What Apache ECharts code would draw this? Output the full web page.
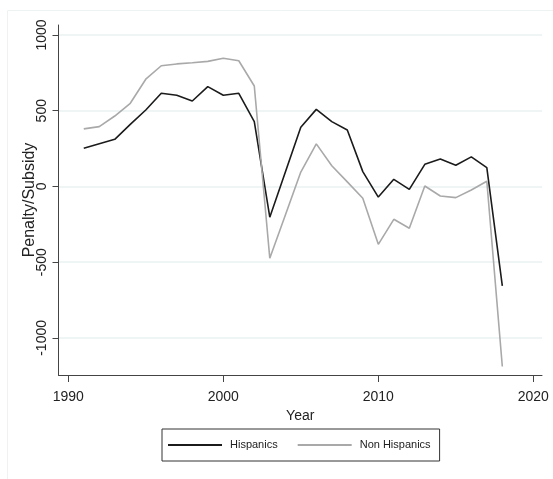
<!DOCTYPE html>
<html>
<head>
<meta charset="utf-8">
<script src="https://cdn.jsdelivr.net/npm/echarts@6/dist/echarts.min.js"></script>
<style>
  html, body { margin: 0; padding: 0; background: #fff; }
  #main { width: 553px; height: 479px; }
</style>
</head>
<body>
<div id="main"></div>
<script>
const years = [1991, 1992, 1993, 1994, 1995, 1996, 1997, 1998, 1999, 2000,
  2001, 2002, 2003, 2004, 2005, 2006, 2007, 2008, 2009, 2010,
  2011, 2012, 2013, 2014, 2015, 2016, 2017, 2018];
const hispanics = [252, 282, 311, 410, 505, 615, 602, 564, 659, 602,
  615, 428, -203, 94, 391, 509, 428, 373, 98, -70,
  47, -19, 146, 181, 140, 195, 124, -657];
const nonHispanics = [380, 395, 465, 549, 708, 797, 809, 817, 826, 846,
  830, 663, -474, -190, 95, 281, 137, 30, -78, -382,
  -217, -276, 3, -63, -74, -23, 34, -1189];
const xTicks = [1990, 2000, 2010, 2020];
const yTicks = [-1000, -500, 0, 500, 1000];

const font = 'Liberation Sans, Arial, sans-serif';
const chart = echarts.init(document.getElementById('main'));

const option = {
  animation: false,
  backgroundColor: '#fff',
  graphic: [{
    type: 'rect',
    left: 5, top: 8,
    shape: { width: 600, height: 600 },
    style: { fill: 'none', stroke: '#edf2f2', lineWidth: 1 },
    silent: true
  }],
  grid: { left: 58.5, top: 25, right: 11, bottom: 104 },
  legend: {
    left: 162, top: 429,
    padding: [9, 9, 9, 6],
    borderColor: '#333', borderWidth: 1,
    icon: 'rect',
    itemWidth: 54, itemHeight: 2, itemGap: 20,
    textStyle: { fontFamily: font, fontSize: 11, color: '#222', padding: [0, 0, 0, 3], lineHeight: 14 },
    data: ['Hispanics', 'Non Hispanics']
  },
  xAxis: {
    type: 'value',
    min: 1989.37, max: 2020.56,
    name: 'Year', nameLocation: 'middle', nameGap: 31,
    nameTextStyle: { fontFamily: font, fontSize: 14, color: '#222' },
    axisLine: { onZero: false, lineStyle: { color: '#444', width: 1 } },
    axisTick: { show: true, length: 7, customValues: xTicks, lineStyle: { color: '#444' } },
    axisLabel: { customValues: xTicks, margin: 15, fontFamily: font, fontSize: 14, color: '#222',
      formatter: v => String(v) },
    splitLine: { show: false }
  },
  yAxis: {
    type: 'value',
    min: -1245, max: 1066,
    name: 'Penalty/Subsidy', nameLocation: 'middle', nameGap: 21,
    nameMoveOverlap: false,
    nameTextStyle: { fontFamily: font, fontSize: 16, color: '#222' },
    axisLine: { show: true, onZero: false, lineStyle: { color: '#444', width: 1 } },
    axisTick: { show: true, length: 6, customValues: yTicks, lineStyle: { color: '#444' } },
    axisLabel: { customValues: yTicks, rotate: 90, margin: 9, fontFamily: font, fontSize: 14, color: '#222',
      formatter: v => String(v) },
    splitLine: { show: true, lineStyle: { color: '#eaf1f2', width: 1.5 } }
  },
  series: [{
    name: 'Hispanics',
    type: 'line',
    symbol: 'none',
    data: years.map((y, i) => [y, hispanics[i]]),
    lineStyle: { color: '#1b1b1b', width: 1.6 },
    itemStyle: { color: '#1b1b1b' }
  }, {
    name: 'Non Hispanics',
    type: 'line',
    symbol: 'none',
    data: years.map((y, i) => [y, nonHispanics[i]]),
    lineStyle: { color: '#a9a9a9', width: 1.6 },
    itemStyle: { color: '#a9a9a9' }
  }]
};
chart.setOption(option);
</script>
</body>
</html>
